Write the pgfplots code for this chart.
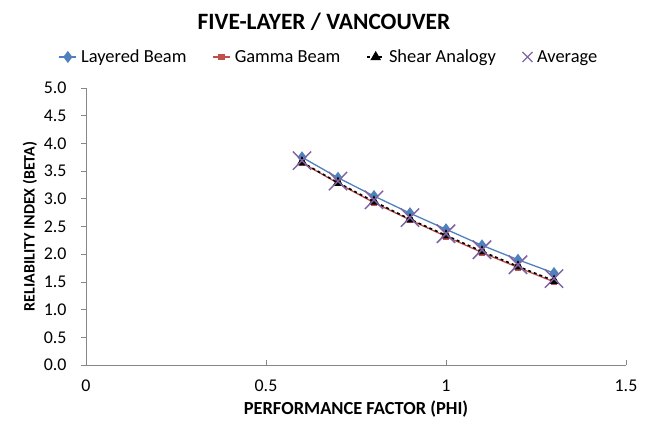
\documentclass[border=0pt]{standalone}
\usepackage{pgfplots}
\pgfplotsset{compat=1.18}
\usepackage{fontspec}
\setmainfont{Carlito}
\definecolor{cblue}{HTML}{4F81BD}
\definecolor{cred}{HTML}{C0504D}
\definecolor{cpurple}{HTML}{8064A2}
\definecolor{caxis}{HTML}{868686}
\begin{document}
\begin{tikzpicture}
\useasboundingbox (-86bp,-65bp) rectangle (560bp,365bp);
\node[font=\fontsize{23.5}{28}\selectfont\bfseries] at (238bp,343bp) {FIVE-LAYER / VANCOUVER};
\begin{axis}[
  at={(0,0)}, anchor=south west,
  scale only axis, width=540bp, height=277bp,
  xmin=0, xmax=1.5, ymin=0, ymax=5,
  xtick={0,0.5,1,1.5}, xticklabels={0,0.5,1,1.5},
  ytick={0,0.5,...,5.0},
  yticklabels={0.0,0.5,1.0,1.5,2.0,2.5,3.0,3.5,4.0,4.5,5.0},
  axis x line*=bottom, axis y line*=left,
  axis line style={caxis, line width=0.8pt},
  tick align=outside,
  major tick length=5bp,
  tick style={caxis, line width=0.8pt},
  x tick style={yshift=5bp},
  xticklabel style={font=\fontsize{18}{21}\selectfont, yshift=-6bp},
  yticklabel style={font=\fontsize{18}{21}\selectfont, xshift=-11bp},
  xlabel={PERFORMANCE FACTOR (PHI)},
  ylabel={RELIABILITY INDEX (BETA)},
  xlabel style={font=\fontsize{18.5}{21}\selectfont\bfseries, yshift=-3bp},
  ylabel style={font=\fontsize{16}{18}\selectfont\bfseries, yshift=0bp},
  legend columns=4,
  legend style={at={(0.45,1.112)}, anchor=center, draw=none, fill=none,
    font=\fontsize{18.5}{21}\selectfont, column sep=2bp,
    /tikz/every even column/.append style={column sep=24bp}},
  legend cell align=left,
  clip=false,
]
\addplot[cblue, line width=1.3pt, mark=diamond*, mark size=5pt, mark options={solid, fill=cblue, draw=cblue}]
coordinates {(0.6,3.75) (0.7,3.38) (0.8,3.05) (0.9,2.74) (1.0,2.45) (1.1,2.16) (1.2,1.90) (1.3,1.66)};
\addlegendentry{Layered Beam}
\addplot[cred, line width=1.3pt, mark=square*, mark size=2.5pt, mark options={solid, fill=cred, draw=cred}]
coordinates {(0.6,3.65) (0.7,3.28) (0.8,2.93) (0.9,2.62) (1.0,2.32) (1.1,2.03) (1.2,1.76) (1.3,1.50)};
\addlegendentry{Gamma Beam}
\addplot[black, line width=1.6pt, dashed, mark=triangle*, mark size=4.5pt, mark options={solid, fill=black, draw=black}]
coordinates {(0.6,3.66) (0.7,3.29) (0.8,2.95) (0.9,2.63) (1.0,2.34) (1.1,2.05) (1.2,1.78) (1.3,1.52)};
\addlegendentry{Shear Analogy}
\addplot[draw=none, mark=+, mark size=13pt, mark options={draw=cpurple, line width=1.5pt, rotate=45, solid},
  legend image code/.code={\draw[cpurple, line width=1.2pt] (0.3cm-5bp,-5bp) -- (0.3cm+5bp,5bp) (0.3cm-5bp,5bp) -- (0.3cm+5bp,-5bp);}]
coordinates {(0.6,3.69) (0.7,3.32) (0.8,2.98) (0.9,2.66) (1.0,2.37) (1.1,2.08) (1.2,1.81) (1.3,1.56)};
\addlegendentry{Average}
\end{axis}
\end{tikzpicture}
\end{document}
